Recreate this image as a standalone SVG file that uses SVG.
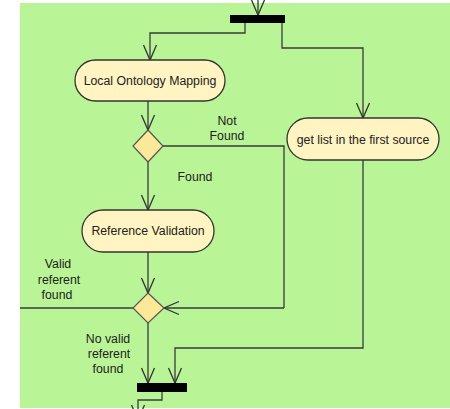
<svg xmlns="http://www.w3.org/2000/svg" width="450" height="409" viewBox="0 0 450 409">
<defs>
<marker id="arr" markerUnits="userSpaceOnUse" viewBox="-16 -8 18 16" refX="0" refY="0" markerWidth="18" markerHeight="16" orient="auto" overflow="visible">
<path d="M-15,-6.5 L0,0 L-15,6.5" fill="none" stroke="#333" stroke-width="1.3"/>
</marker>
<style>
.bg{fill:#b9f597}
.node{fill:#fff4c2;stroke:#333;stroke-width:1.3}
.dia{fill:#fbe99a;stroke:#555;stroke-width:1.2}
.bar{fill:#000}
.ln{fill:none;stroke:#3a3a3a;stroke-width:1.3}
.arrow{marker-end:url(#arr)}
text{font-family:"Liberation Sans",Arial,sans-serif;font-size:12.3px;fill:#222;text-anchor:middle}
</style>
</defs>
<rect class="bg" x="20" y="3" width="430" height="405"/>
<g id="connectors">
<path class="ln arrow" d="M258,-10 L258,15"/>
<path class="ln arrow" d="M245,23 L245,33 L150,33 L150,60"/>
<path class="ln arrow" d="M282,23 L282,48 L363,48 L363,118"/>
<path class="ln arrow" d="M148,101 L148,130"/>
<path class="ln arrow" d="M148,162 L148,210"/>
<path class="ln" d="M163,146 L284,146 L284,308"/>
<path class="ln arrow" d="M284,308 L164,308"/>
<path class="ln arrow" d="M148,252 L148,293"/>
<path class="ln" d="M20,308 L133,308"/>
<path class="ln arrow" d="M148,323 L148,383"/>
<path class="ln arrow" d="M363,160 L363,348 L175,348 L175,383"/>
<path class="ln arrow" d="M162,392 L162,400 L138,400 L138,420"/>
</g>
<g id="fork"><rect class="bar" x="230" y="15" width="55" height="8"/></g>
<g id="join"><rect class="bar" x="137" y="383" width="50" height="9"/></g>
<g id="local-ontology-mapping">
<rect class="node" x="75" y="60" width="150" height="41" rx="20.5"/>
<text x="150" y="85">Local Ontology Mapping</text>
</g>
<g id="get-list">
<rect class="node" x="287" y="118" width="152" height="42" rx="21"/>
<text x="363" y="144">get list in the first source</text>
</g>
<g id="decision1">
<polygon class="dia" points="148,130 163,146 148,162 133,146"/>
</g>
<g id="reference-validation">
<rect class="node" x="82" y="210" width="132" height="42" rx="21"/>
<text x="148" y="235">Reference Validation</text>
</g>
<g id="decision2">
<polygon class="dia" points="148,293 164,308 148,323 133,308"/>
</g>
<g id="labels">
<text x="227" y="125">Not</text>
<text x="227" y="140">Found</text>
<text x="195" y="181">Found</text>
<text x="58" y="268">Valid</text>
<text x="59" y="284">referent</text>
<text x="57" y="299">found</text>
<text x="108" y="343">No valid</text>
<text x="109" y="358">referent</text>
<text x="108" y="373">found</text>
</g>
</svg>
